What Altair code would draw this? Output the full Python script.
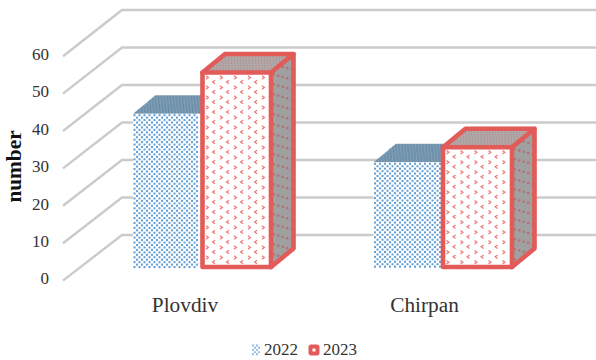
import altair as alt
import pandas as pd

# Chart values
cities = ["Plovdiv", "Chirpan"]
values_2022 = [41, 28]
values_2023 = [52, 32]
ticks = [0, 10, 20, 30, 40, 50, 60]
years = ["2022", "2023"]

# Oblique projection of the column chart onto the page
W, H = 596, 360
FRONT_X, BACK_X = 63, 122
FRONT_Y0, BACK_Y0 = 280.6, 235.0
WALL_END = 596
BAR_Y0 = 267.0
UNIT = 3.74
DEPTH_X, DEPTH_Y = 22.5, -18.5
SPANS_2022 = [(133, 200), (373.5, 441)]
SPANS_2023 = [(202.5, 271), (443, 512)]

BLUE = "#5b9bd5"
RED = "#e25b58"
GRID = "#cbcbcb"
TEXT = "#333333"
FONT = "Liberation Serif"


def vy(v):
    return BAR_Y0 - UNIT * v


xs = alt.X("x:Q", scale=alt.Scale(domain=[0, W], range=[0, W]), axis=None)
ys = alt.Y("y:Q", scale=alt.Scale(domain=[0, H], range=[0, H]), axis=None)
x2s = alt.X2("x2:Q")
y2s = alt.Y2("y2:Q")

# Wall and floor grid lines
grid_rows = []
for t in ticks:
    path = [(FRONT_X, FRONT_Y0 - UNIT * t), (BACK_X, BACK_Y0 - 3.75 * t), (WALL_END, BACK_Y0 - 3.75 * t)]
    for i, (x, y) in enumerate(path):
        grid_rows.append({"x": x, "y": y, "tick": t, "i": i})
grid = alt.Chart(pd.DataFrame(grid_rows)).mark_line(color=GRID, strokeWidth=2.4).encode(
    x=xs, y=ys, detail="tick:N", order="i:Q")


def rects(spans, vals, fill):
    rows = [{"x": a, "x2": b, "y": vy(v), "y2": BAR_Y0} for (a, b), v in zip(spans, vals)]
    return alt.Chart(pd.DataFrame(rows)).mark_rect(fill=fill).encode(x=xs, x2=x2s, y=ys, y2=y2s)


def top_faces(spans, vals, fill):
    rows = []
    for k, ((a, b), v) in enumerate(zip(spans, vals)):
        rows.append({"f": k, "y": vy(v), "x": a, "x2": b})
        rows.append({"f": k, "y": vy(v) + DEPTH_Y, "x": a + DEPTH_X, "x2": b + DEPTH_X})
    return alt.Chart(pd.DataFrame(rows)).mark_area(orient="horizontal", fill=fill).encode(
        y=ys, x=xs, x2=x2s, detail="f:N")


def side_faces(spans, vals, fill):
    rows = []
    for k, ((a, b), v) in enumerate(zip(spans, vals)):
        rows.append({"f": k, "x": b, "y": vy(v), "y2": BAR_Y0})
        rows.append({"f": k, "x": b + DEPTH_X, "y": vy(v) + DEPTH_Y, "y2": BAR_Y0 + DEPTH_Y})
    return alt.Chart(pd.DataFrame(rows)).mark_area(fill=fill).encode(
        x=xs, y=alt.Y("y:Q", scale=alt.Scale(domain=[0, H], range=[0, H]), axis=None, stack=None),
        y2=y2s, detail="f:N")


def frange(a, b, step):
    out = []
    x = a
    while x < b:
        out.append(x)
        x += step
    return out


# Pattern fills
def dots_front(spans, vals):
    rows = []
    for (a, b), v in zip(spans, vals):
        for j, y in enumerate(frange(vy(v) + 1.5, BAR_Y0 + 0.3, 2.45)):
            off = 1.5 if j % 2 == 0 else 4.0
            for x in frange(a + off, b - 0.5, 5.0):
                rows.append({"x": x, "y": y})
    return alt.Chart(pd.DataFrame(rows)).mark_square(size=4.2, color=BLUE, opacity=0.95).encode(x=xs, y=ys)


def hatch_top(spans, vals, color, size, opacity):
    rows = []
    for (a, b), v in zip(spans, vals):
        for t in frange(0.04, 1.0, 0.11):
            for u in frange(a + 1 + (t * 30 % 3), b - 1, 3.0):
                rows.append({"x": u + t * DEPTH_X, "y": vy(v) + t * DEPTH_Y})
    return alt.Chart(pd.DataFrame(rows)).mark_square(size=size, color=color, opacity=opacity).encode(x=xs, y=ys)


RIGHT = "M-0.6,-1L0.8,0L-0.6,1"
LEFT = "M0.6,-1L-0.8,0L0.6,1"


def chevrons(spans, vals):
    rows_r, rows_l = [], []
    for (a, b), v in zip(spans, vals):
        for i, x in enumerate(frange(a + 4.5, b - 2.5, 7.0)):
            start = vy(v) + 5 if i % 2 == 0 else vy(v) + 9.5
            for y in frange(start, BAR_Y0 - 3.5, 10.0):
                (rows_r if i % 2 == 0 else rows_l).append({"x": x, "y": y})

    def layer(rows, shape):
        return alt.Chart(pd.DataFrame(rows)).mark_point(
            shape=shape, size=12, color="#ea7f7c", strokeWidth=1.3, filled=False, opacity=1).encode(x=xs, y=ys)
    return layer(rows_r, RIGHT) + layer(rows_l, LEFT)


def side_marks(spans, vals):
    rows = []
    for (a, b), v in zip(spans, vals):
        for i, t in enumerate(frange(0.12, 1.0, 0.2)):
            top = vy(v) + t * DEPTH_Y
            bot = BAR_Y0 + t * DEPTH_Y
            for y in frange(top + 4 + (i % 2) * 5, bot - 2, 10.0):
                rows.append({"x": b + t * DEPTH_X, "y": y})
    return alt.Chart(pd.DataFrame(rows)).mark_square(size=5, color="#b5696b", opacity=0.85).encode(x=xs, y=ys)


def outlines(spans, vals):
    rows = []
    for k, ((a, b), v) in enumerate(zip(spans, vals)):
        t, y0 = vy(v), BAR_Y0
        front = [(a, t), (b, t), (b, y0), (a, y0), (a, t)]
        lid = [(a, t), (a + DEPTH_X, t + DEPTH_Y), (b + DEPTH_X, t + DEPTH_Y), (b, t)]
        flank = [(b + DEPTH_X, t + DEPTH_Y), (b + DEPTH_X, y0 + DEPTH_Y), (b, y0)]
        for name, pts in (("front", front), ("lid", lid), ("flank", flank)):
            for i, (x, y) in enumerate(pts):
                rows.append({"p": f"{k}{name}", "i": i, "x": x, "y": y})
    return alt.Chart(pd.DataFrame(rows)).mark_line(
        color=RED, strokeWidth=4.6, strokeJoin="round", strokeCap="round").encode(
        x=xs, y=ys, detail="p:N", order="i:Q")


# Texts
tick_df = pd.DataFrame({"x": [49] * len(ticks), "y": [FRONT_Y0 - UNIT * t - 1.2 for t in ticks],
                        "label": [str(t) for t in ticks]})
tick_text = alt.Chart(tick_df).mark_text(font=FONT, fontSize=17, color=TEXT, align="right", baseline="middle").encode(
    x=xs, y=ys, text="label:N")

cat_df = pd.DataFrame({"x": [185, 424.5], "y": [306, 306], "label": cities})
cat_text = alt.Chart(cat_df).mark_text(font=FONT, fontSize=21.3, color=TEXT, align="center", baseline="middle").encode(
    x=xs, y=ys, text="label:N")

title_df = pd.DataFrame({"x": [15], "y": [166.5], "label": ["number"]})
title_text = alt.Chart(title_df).mark_text(font=FONT, fontSize=21.3, fontWeight="bold", color="#111111",
                                           angle=270, align="center", baseline="middle").encode(
    x=xs, y=ys, text="label:N")

legend_df = pd.DataFrame({"x": [264, 323], "y": [349.5, 349.5], "label": years})
legend_text = alt.Chart(legend_df).mark_text(font=FONT, fontSize=17, color=TEXT, align="left", baseline="middle").encode(
    x=xs, y=ys, text="label:N")

swatch_rows = [{"x": x, "y": y} for j, y in enumerate(frange(345.5, 354.5, 2.2))
               for x in frange(253 + (j % 2) * 2.0, 260, 4.0)]
swatch_2022 = alt.Chart(pd.DataFrame(swatch_rows)).mark_square(size=3.6, color=BLUE).encode(x=xs, y=ys)
swatch_2023 = alt.Chart(pd.DataFrame({"x": [308.5], "x2": [319.5], "y": [344.5], "y2": [355.5]})).mark_rect(
    fill=RED, cornerRadius=2.5).encode(x=xs, x2=x2s, y=ys, y2=y2s)
swatch_2023_core = alt.Chart(pd.DataFrame({"x": [312.5], "x2": [315.5], "y": [348.5], "y2": [351.5]})).mark_rect(
    fill="white").encode(x=xs, x2=x2s, y=ys, y2=y2s)

chart = alt.layer(
    grid,
    top_faces(SPANS_2022, values_2022, "#7f9db3"),
    hatch_top(SPANS_2022, values_2022, "#5f87a6", 2.5, 0.8),
    rects(SPANS_2022, values_2022, "white"),
    dots_front(SPANS_2022, values_2022),
    side_faces(SPANS_2023, values_2023, "#a0a0a0"),
    side_marks(SPANS_2023, values_2023),
    top_faces(SPANS_2023, values_2023, "#adadad"),
    hatch_top(SPANS_2023, values_2023, "#bd7f80", 2.5, 0.55),
    rects(SPANS_2023, values_2023, "white"),
    chevrons(SPANS_2023, values_2023),
    outlines(SPANS_2023, values_2023),
    tick_text, cat_text, title_text, legend_text, swatch_2022, swatch_2023, swatch_2023_core,
).properties(
    width=W, height=H, padding=0,
    autosize=alt.AutoSizeParams(type="none"),
    background="white",
).configure_view(stroke=None)

chart.save("out.html", embed_options={"renderer": "svg", "actions": False})
